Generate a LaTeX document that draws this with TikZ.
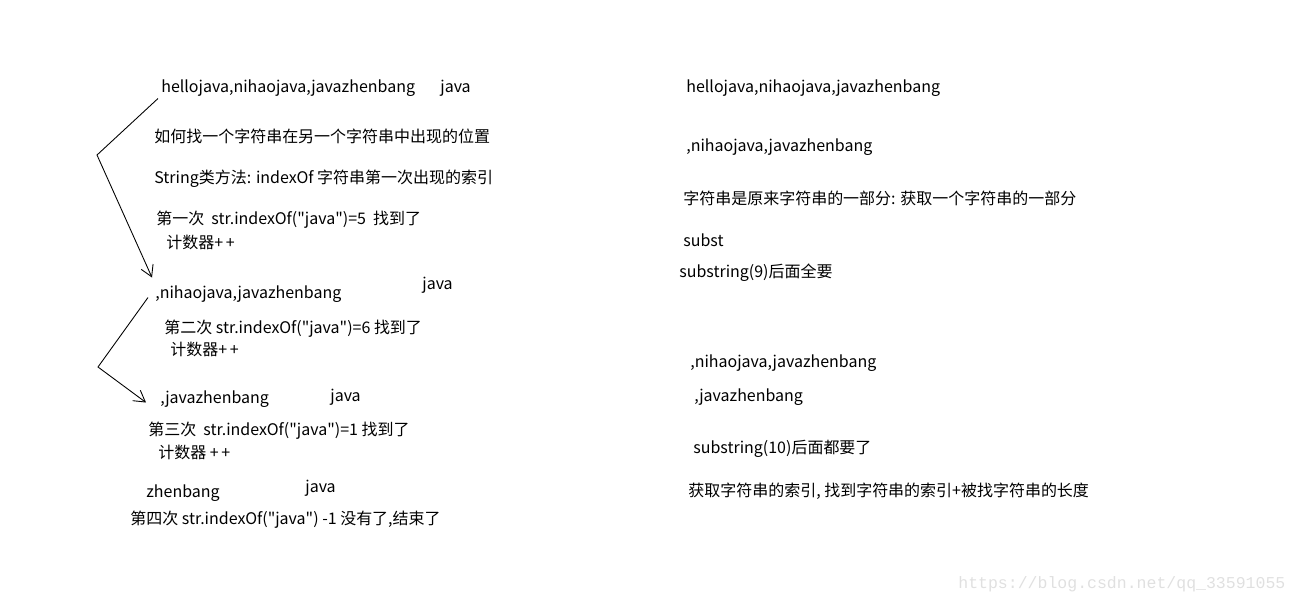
\documentclass[tikz,border=0pt]{standalone}
\usepackage{fontspec}
\setmainfont{Noto Sans CJK SC}[Ligatures=TeXOff]
\newfontfamily\wmfont{Liberation Mono}
\usepackage{tikz}
\usetikzlibrary{arrows.meta,positioning}

\begin{document}
\begin{tikzpicture}[x=0.02cm,y=-0.02cm]
      \tikzstyle{t}=[anchor=west,inner sep=0pt,yshift=-0.05cm,font=\fontsize{9.1}{11}\selectfont]
      \tikzstyle{arr}=[-{Straight Barb[length=2.2mm,width=2.6mm]},line width=0.5pt]
      \useasboundingbox (0,0) rectangle (1299,603);
      % left column
      \node[t] (hello) at (161,86) {hellojava,nihaojava,javazhenbang};
      \node[t] (java1) at (440,86) {java};
      \node[t] (how) at (154,134) {如何找一个字符串在另一个字符串中出现的位置};
      \node[t] (meth) at (154,176) {String类方法: indexOf 字符串第一次出现的索引};
      \node[t] (idx1) at (156,217) {第一次\ \ str.indexOf("java")=5\ \ 找到了};
      \node[t] (cnt1) at (166,240) {计数器+\,+};
      \node[t] (nihao) at (155,292) {,nihaojava,javazhenbang};
      \node[t] (java2) at (422,283) {java};
      \node[t] (idx2) at (164,326) {第二次 str.indexOf("java")=6 找到了};
      \node[t] (cnt2) at (170,347) {计数器+\,+};
      \node[t] (jzb) at (160,397) {,javazhenbang};
      \node[t] (java3) at (330,395) {java};
      \node[t] (idx3) at (148,428) {第三次\ \ str.indexOf("java")=1 找到了};
      \node[t] (cnt3) at (158,450) {计数器 +\,+};
      \node[t] (zb) at (146,491) {zhenbang};
      \node[t] (java4) at (305,486) {java};
      \node[t] (idx4) at (130,517) {第四次 str.indexOf("java") -1 没有了,结束了};
      % right column
      \node[t] (rhello) at (686,86) {hellojava,nihaojava,javazhenbang};
      \node[t] (rnihao) at (686,145) {,nihaojava,javazhenbang};
      \node[t] (part) at (683,196) {字符串是原来字符串的一部分: 获取一个字符串的一部分};
      \node[t] (subst) at (683,238) {subst};
      \node[t] (sub9) at (679,270) {substring(9)后面全要};
      \node[t] (rnihao2) at (690,361) {,nihaojava,javazhenbang};
      \node[t] (rjzb) at (694,395) {,javazhenbang};
      \node[t] (sub10) at (693,446) {substring(10)后面都要了};
      \node[t] (len) at (688,489) {获取字符串的索引, 找到字符串的索引+被找字符串的长度};
      \node[t,font=\wmfont\fontsize{9.4}{11}\selectfont,text=black!12] (wm) at (958,582) {https://blog.csdn.net/qq\_33591055};
      % arrows
      \coordinate (b1) at (97,155);
      \coordinate (b2) at (98,367);
      \draw[arr] ([shift={(-3,10)}]hello.west) -- (b1) -- ([shift={(-3,-17)}]nihao.west);
      \draw[arr] ([shift={(-7,3)}]nihao.west) -- (b2) -- ([shift={(-14,3)}]jzb.west);
\end{tikzpicture}
\end{document}
